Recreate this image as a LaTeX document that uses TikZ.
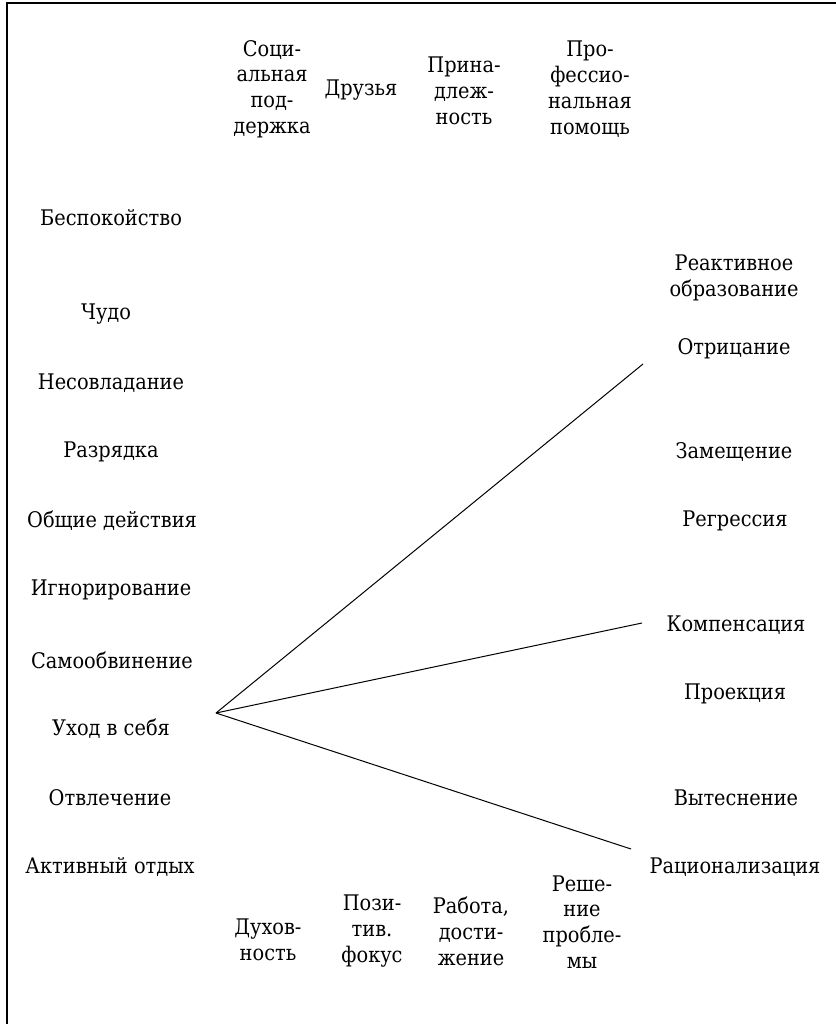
\documentclass[tikz,border=0pt]{standalone}
\usepackage{fontspec}
\setmainfont{DejaVu Serif Condensed}
\usepackage{tikz}
\usetikzlibrary{positioning,calc}

\begin{document}
\begin{tikzpicture}[x=1pt,y=-1pt,font=\fontsize{21.5}{25.8}\selectfont,
  lbl/.style={align=center,inner sep=1pt}]
\useasboundingbox (0,0) rectangle (835,1024);
\draw[line width=1.5pt] (7,1030) -- (7,3) -- (840,3);

% left column
\node[lbl] (besp) at (111,218) {Беспокойство};
\node[lbl] (chudo) at (106,314) {Чудо};
\node[lbl] (nesov) at (111,383) {Несовладание};
\node[lbl] (razr) at (111,452) {Разрядка};
\node[lbl] (obsch) at (112,521) {Общие действия};
\node[lbl] (ignor) at (111,590) {Игнорирование};
\node[lbl] (samo) at (112,660) {Самообвинение};
\node[lbl] (uhod) at (111,729) {Уход в себя};
\node[lbl] (otvl) at (110,798) {Отвлечение};
\node[lbl] (aktiv) at (110,867) {Активный отдых};

% right column
\node[lbl] (reakt) at (734,278) {Реактивное\\образование};
\node[lbl] (otric) at (734,349) {Отрицание};
\node[lbl] (zamesch) at (734,452) {Замещение};
\node[lbl] (regr) at (735,521) {Регрессия};
\node[lbl] (kompens) at (736,625) {Компенсация};
\node[lbl] (proek) at (735,694) {Проекция};
\node[lbl] (vytesn) at (736,798) {Вытеснение};
\node[lbl] (racion) at (735,867) {Рационализация};

% top row
\node[lbl] (socpod) at (272,89) {Соци-\\альная\\под-\\держка};
\node[lbl] (druz) at (361,90) {Друзья};
\node[lbl] (prinad) at (464,91) {Прина-\\длеж-\\ность};
\node[lbl] (profpom) at (590,89) {Про-\\фессио-\\нальная\\помощь};

% bottom row
\node[lbl] (duhov) at (268,940) {Духов-\\ность};
\node[lbl] (pozit) at (372,931) {Пози-\\тив.\\фокус};
\node[lbl] (rabota) at (471,931) {Работа,\\дости-\\жение};
\node[lbl] (reshen) at (582,922) {Реше-\\ние\\пробле-\\мы};

% lines
\coordinate (hub) at (216,713);
\coordinate (endA) at (643,364);
\coordinate (endB) at (642,623);
\coordinate (endC) at (631,849);
\draw[line width=1pt] (hub) -- (endA);
\draw[line width=1pt] (hub) -- (endB);
\draw[line width=1pt] (hub) -- (endC);
\end{tikzpicture}
\end{document}
